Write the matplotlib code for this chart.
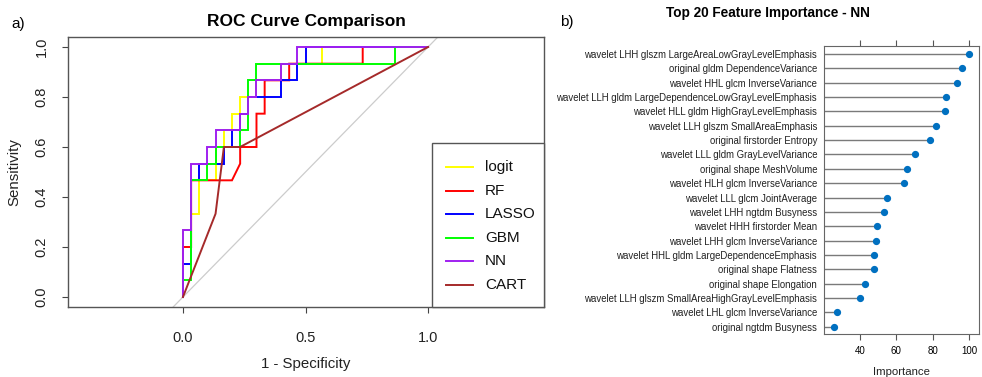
import matplotlib
matplotlib.use("Agg")
import matplotlib.pyplot as plt
from matplotlib.patches import Rectangle
from matplotlib.lines import Line2D

plt.rcParams['font.family'] = ['Liberation Sans', 'DejaVu Sans']

# ---------------- ROC data (counts of negatives / positives) ----------------
N_NEG = 30
N_POS = 15
models = ["logit", "RF", "LASSO", "GBM", "NN", "CART"]
colors = ["#FFFF00", "#FF0000", "#0000FF", "#00FF00", "#A020F0", "#A52A2A"]

logit_fp = [0, 0, 1, 1, 2, 2, 4, 4, 5, 5, 6, 6, 7, 7, 8, 8, 9, 9, 12, 12, 17, 17, 30]
logit_tp = [0, 4, 4, 5, 5, 7, 7, 9, 9, 10, 10, 11, 11, 12, 12, 12, 12, 13, 13, 14, 14, 15, 15]

rf_fp = [0, 0, 1, 1, 6, 7, 7, 9, 9, 10, 10, 13, 13, 22, 22, 30]
rf_tp = [0, 3, 3, 7, 7, 8, 9, 9, 11, 11, 13, 13, 14, 14, 15, 15]

lasso_fp = [0, 0, 1, 1, 2, 2, 5, 5, 6, 6, 7, 7, 8, 8, 12, 12, 14, 14, 15, 15, 30]
lasso_tp = [0, 2, 2, 7, 7, 8, 8, 9, 9, 10, 10, 11, 11, 12, 12, 13, 13, 14, 14, 15, 15]

gbm_fp = [0, 0, 1, 1, 3, 3, 4, 4, 7, 7, 8, 8, 9, 9, 26, 26, 30]
gbm_tp = [0, 1, 1, 7, 7, 8, 8, 9, 9, 10, 10, 13, 13, 14, 14, 15, 15]

nn_fp = [0, 0, 1, 1, 3, 3, 4, 4, 7, 7, 8, 8, 9, 9, 12, 12, 14, 14, 30]
nn_tp = [0, 4, 4, 8, 8, 9, 9, 10, 10, 11, 11, 12, 12, 13, 13, 14, 14, 15, 15]

cart_fpr = [0.0, 0.133, 0.167, 0.233, 1.0]
cart_tpr = [0.0, 0.333, 0.600, 0.600, 1.0]

# ---------------- Feature importance data ----------------
features = [
    "wavelet LHH glszm LargeAreaLowGrayLevelEmphasis",
    "original gldm DependenceVariance",
    "wavelet HHL glcm InverseVariance",
    "wavelet LLH gldm LargeDependenceLowGrayLevelEmphasis",
    "wavelet HLL gldm HighGrayLevelEmphasis",
    "wavelet LLH glszm SmallAreaEmphasis",
    "original firstorder Entropy",
    "wavelet LLL gldm GrayLevelVariance",
    "original shape MeshVolume",
    "wavelet HLH glcm InverseVariance",
    "wavelet LLL glcm JointAverage",
    "wavelet LHH ngtdm Busyness",
    "wavelet HHH firstorder Mean",
    "wavelet LHH glcm InverseVariance",
    "wavelet HHL gldm LargeDependenceEmphasis",
    "original shape Flatness",
    "original shape Elongation",
    "wavelet LLH glszm SmallAreaHighGrayLevelEmphasis",
    "wavelet LHL glcm InverseVariance",
    "original ngtdm Busyness",
]
importance = [100.0, 96.0, 93.2, 87.3, 86.8, 81.8, 78.5, 70.3, 66.0, 64.2,
              55.0, 53.2, 49.4, 48.6, 47.9, 47.7, 42.75, 40.2, 27.3, 25.7]
imp_ticks = [40, 60, 80, 100]

# ---------------- Figure ----------------
W, H = 982, 377
fig = plt.figure(figsize=(W / 100, H / 100), dpi=100)

# ---- Panel a: ROC ----
ax1 = fig.add_axes([68 / W, 1 - 307 / H, 476 / W, 270 / H])
ax1.set_xlim(-0.469, 1.473)
ax1.set_ylim(-0.04, 1.04)
ax1.axline((0, 0), (1, 1), color="#CCCCCC", lw=0.9, zorder=1)

series = [
    (logit_fp, logit_tp), (rf_fp, rf_tp), (lasso_fp, lasso_tp),
    (gbm_fp, gbm_tp), (nn_fp, nn_tp),
]
for (fp, tp), c in zip(series, colors[:5]):
    ax1.plot([v / N_NEG for v in fp], [v / N_POS for v in tp], color=c, lw=1.4,
             solid_joinstyle="miter", zorder=2)
ax1.plot(cart_fpr, cart_tpr, color=colors[5], lw=1.4, zorder=3)

ax1.set_xticks([0.0, 0.5, 1.0])
ax1.set_xticklabels(["0.0", "0.5", "1.0"])
ax1.set_yticks([0.0, 0.2, 0.4, 0.6, 0.8, 1.0])
ax1.set_yticklabels(["0.0", "0.2", "0.4", "0.6", "0.8", "1.0"])
ax1.tick_params(axis="both", direction="out", length=4, width=0.8,
                color="#444444", labelsize=10.5, labelcolor="#222222")
ax1.tick_params(axis="x", pad=13)
ax1.tick_params(axis="y", pad=10)
for lab in ax1.get_yticklabels():
    lab.set_rotation(90)
    lab.set_va("center")
for s in ax1.spines.values():
    s.set_color("#555555")
    s.set_linewidth(1.0)

ax1.set_title("ROC Curve Comparison", fontsize=12.5, fontweight="bold", pad=8)
ax1.set_xlabel("1 - Specificity", fontsize=10.8, va="center", color="#222222")
ax1.xaxis.set_label_coords(0.5, (307 - 364) / 270)
ax1.set_ylabel("Sensitivity", fontsize=10.8, va="center", color="#222222")
ax1.yaxis.set_label_coords((14.5 - 68) / 476, 0.5)

# legend box (bottom right inside the plot)
lx0, ltop = (432 - 68) / 476, (307 - 143) / 270
ax1.add_patch(Rectangle((lx0, 0), 1 - lx0, ltop, transform=ax1.transAxes,
                        fill=True, facecolor="white", edgecolor="#555555",
                        lw=1.0, zorder=4, clip_on=False))
for i, (m, c) in enumerate(zip(models, colors)):
    yy = (307 - (167 + i * 23.6)) / 270
    ax1.add_line(Line2D([(446 - 68) / 476, (473 - 68) / 476], [yy, yy],
                        transform=ax1.transAxes, color=c, lw=1.4, zorder=5))
    ax1.text((485 - 68) / 476, yy, m, transform=ax1.transAxes, fontsize=11,
             va="center", ha="left", color="#111111", zorder=5)

fig.text(18 / W, 1 - 24 / H, "a)", fontsize=11, ha="center", va="center")

# ---- Panel b: feature importance ----
ax2 = fig.add_axes([824 / W, 1 - 334 / H, 155 / W, 288 / H])
ax2.set_xlim(20.3, 105.4)
ax2.set_ylim(0.5, 20.55)
n = len(features)
ypos = [n - i for i in range(n)]
x_left = ax2.get_xlim()[0]
ax2.hlines(ypos, x_left, importance, color="#7A7A7A", lw=1.0, zorder=2)
ax2.plot(importance, ypos, "o", color="#0070C0", ms=4.2, zorder=3)
ax2.set_yticks(ypos)
ax2.set_yticklabels(features)
ax2.set_xticks(imp_ticks)
ax2.set_xticklabels([str(t) for t in imp_ticks])
ax2.tick_params(axis="y", length=0, pad=5, labelsize=6.9, labelcolor="#222222")
ax2.tick_params(axis="x", direction="out", length=4, width=0.8, color="#555555",
                labelsize=7, pad=4.5, top=True, labeltop=False)
for s in ax2.spines.values():
    s.set_color("#666666")
    s.set_linewidth(0.8)
ax2.set_xlabel("Importance", fontsize=8.2, va="center", color="#222222")
ax2.xaxis.set_label_coords(0.5, (334 - 372) / 288)

fig.text(768 / W, 1 - 13 / H, "Top 20 Feature Importance - NN", fontsize=9.8,
         fontweight="bold", ha="center", va="center")
fig.text(567 / W, 1 - 22 / H, "b)", fontsize=11, ha="center", va="center")

fig.savefig("out.png", dpi=100)
